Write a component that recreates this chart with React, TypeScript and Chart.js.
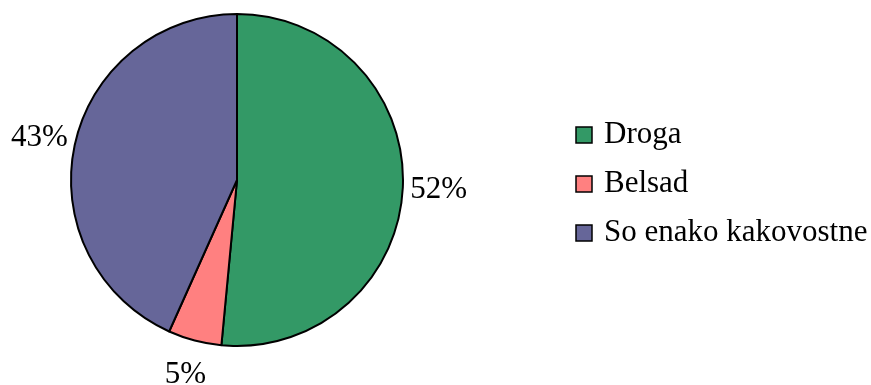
import React, { useEffect, useRef } from "react";
import { Chart, registerables } from "chart.js";

Chart.register(...registerables);

const categories = ["Droga", "Belsad", "So enako kakovostne"];
const values = [51.5, 5.2, 43.3];
const percentLabels = ["52%", "5%", "43%"];
const colors = ["#339966", "#FF8080", "#666699"];

const FONT = '31px "Liberation Serif", "Times New Roman", serif';

const labelPlugin = {
  id: "pieLabels",
  afterDatasetsDraw(chart: any) {
    const ctx = chart.ctx;
    const meta = chart.getDatasetMeta(0);
    ctx.save();
    ctx.font = FONT;
    ctx.fillStyle = "#000";
    ctx.textAlign = "center";
    ctx.textBaseline = "middle";
    meta.data.forEach((arc: any, i: number) => {
      const { x, y, startAngle, endAngle, outerRadius } = arc.getProps(
        ["x", "y", "startAngle", "endAngle", "outerRadius"],
        true
      );
      const mid = (startAngle + endAngle) / 2;
      const d = outerRadius + 36;
      ctx.fillText(percentLabels[i], x + Math.cos(mid) * d, y + Math.sin(mid) * d);
    });
    ctx.restore();
  },
};

const legendPlugin = {
  id: "customLegend",
  afterDraw(chart: any) {
    const ctx = chart.ctx;
    ctx.save();
    ctx.font = FONT;
    ctx.textAlign = "left";
    ctx.textBaseline = "alphabetic";
    const boxX = 576;
    const textX = 604;
    const firstBaseline = 143;
    const step = 49;
    categories.forEach((cat, i) => {
      const base = firstBaseline + i * step;
      ctx.fillStyle = colors[i];
      ctx.fillRect(boxX, base - 16, 16, 16);
      ctx.strokeStyle = "#000";
      ctx.lineWidth = 1.5;
      ctx.strokeRect(boxX, base - 16, 16, 16);
      ctx.fillStyle = "#000";
      ctx.fillText(cat, textX, base);
    });
    ctx.restore();
  },
};

export default function App() {
  const ref = useRef<HTMLCanvasElement>(null);
  useEffect(() => {
    if (!ref.current) return;
    const chart = new Chart(ref.current, {
      type: "pie",
      data: {
        labels: categories,
        datasets: [
          {
            data: values,
            backgroundColor: colors,
            borderColor: "#000",
            borderWidth: 2,
          },
        ],
      },
      options: {
        responsive: false,
        animation: false,
        radius: 166,
        layout: { padding: { left: 71, top: 14, right: 468, bottom: 39 } },
        plugins: {
          legend: { display: false },
          tooltip: { enabled: false },
          title: { display: false },
        },
      } as any,
      plugins: [labelPlugin, legendPlugin],
    });
    return () => chart.destroy();
  }, []);
  return (
    <div style={{ position: "fixed", left: 0, top: 0, width: 871, height: 385, background: "#fff" }}>
      <canvas ref={ref} width={871} height={385} style={{ width: 871, height: 385 }} />
    </div>
  );
}
